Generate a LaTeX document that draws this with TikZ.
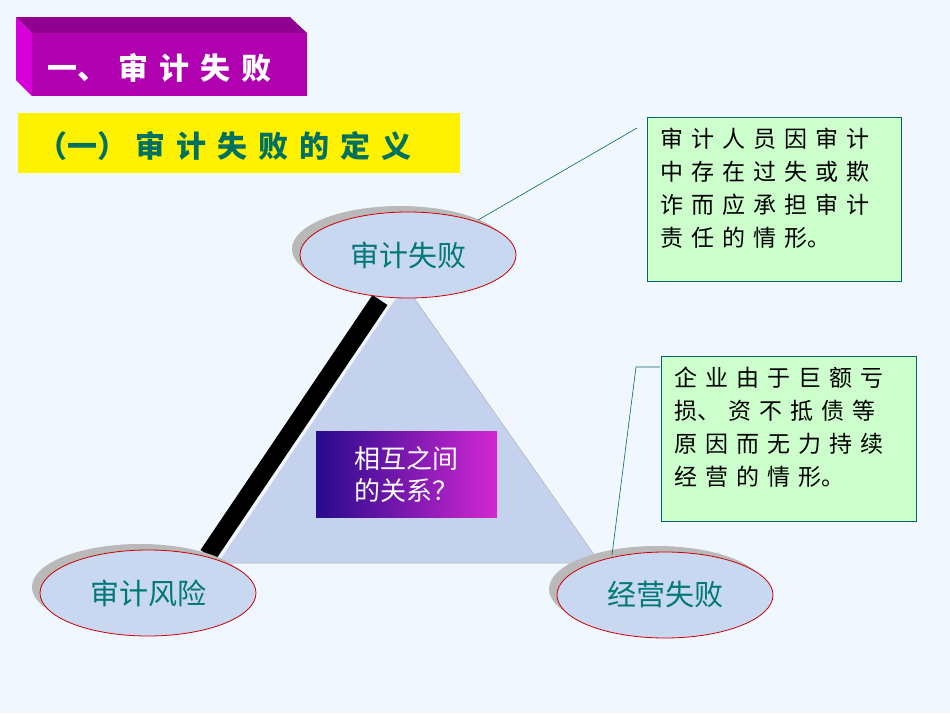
\documentclass[tikz,border=0pt]{standalone}
\usepackage{fontspec}
\setmainfont{Noto Sans CJK SC}
\usetikzlibrary{shapes.geometric}
\definecolor{bgc}{RGB}{240,247,255}
\definecolor{mtop}{RGB}{144,0,144}
\definecolor{mleft}{RGB}{216,0,216}
\definecolor{mfront}{RGB}{176,0,176}
\definecolor{subc}{RGB}{0,112,96}
\definecolor{tric}{RGB}{196,210,238}
\definecolor{cbl}{RGB}{40,10,140}
\definecolor{cbr}{RGB}{210,40,210}
\definecolor{notec}{RGB}{204,255,204}
\definecolor{ellc}{RGB}{200,216,240}
\definecolor{ellt}{RGB}{0,120,120}
\newcommand\gp{\hspace{8pt}}
\newcommand\tgp{\hspace{11pt}}
\begin{document}
\begin{tikzpicture}[x=1pt,y=-1pt,
  ell/.style={ellipse,draw=red!80!black,line width=0.8pt,fill=ellc,minimum width=216pt,minimum height=86pt,text=ellt,font=\fontsize{29}{30}\selectfont},
  shad/.style={ellipse,fill=gray!55,minimum width=216pt,minimum height=86pt},
  note/.style={draw=teal!80!black,fill=notec,line width=0.8pt,anchor=north west,inner sep=0pt},
  notetxt/.style={anchor=north west,align=left,font=\fontsize{23}{33}\selectfont,inner sep=0pt},
  lead/.style={draw=teal!80!black,line width=0.6pt}]
\fill[bgc] (0,0) rectangle (950,713);
\useasboundingbox (0,0) rectangle (950,713);
% title box
\fill[mtop] (16,17)--(290,17)--(307,33)--(32,33)--cycle;
\fill[mleft] (16,17)--(32,33)--(32,96)--(16,80)--cycle;
\node[fill=mfront,minimum width=275pt,minimum height=63pt,anchor=north west,inner sep=0pt] (title) at (32,33) {};
\node[anchor=west,text=white,font=\bfseries\fontsize{30}{32}\selectfont] (titletxt) at (44,68) {一、\tgp 审\tgp 计\tgp 失\tgp 败};
% yellow
\node[fill=yellow,minimum width=442pt,minimum height=60pt,anchor=north west,inner sep=0pt] (sub) at (18,113) {};
\node[anchor=west,text=subc,font=\bfseries\fontsize{30}{32}\selectfont] (subtxt) at (34,146) {（一）\hspace{8pt}审\tgp 计\tgp 失\tgp 败\tgp 的\tgp 定\tgp 义};
% triangle
\coordinate (apex) at (405,285);
\coordinate (bl) at (218,563);
\coordinate (br) at (600,563);
\fill[tric] (apex)--(bl)--(br)--cycle;
\draw[gray!60,line width=0.5pt] (apex)--(br)--(bl);
\coordinate (bs) at (380,300);
\coordinate (be) at (208,555);
\draw[black,line width=18pt] (bs)--(be);
% ellipses
\node[shad] (s1) at (400,249) {};
\node[ell] (e1) at (408,255) {审计失败};
\node[shad] (s2) at (140,587) {};
\node[ell] (e2) at (148,593) {审计风险};
\node[shad] (s3) at (657,589) {};
\node[ell] (e3) at (665,595) {经营失败};
% center box
\node[shade,left color=cbl,right color=cbr,minimum width=181pt,minimum height=86pt,inner sep=0pt,anchor=north west] (cb) at (316,431) {};
\node[text=white,align=left,font=\fontsize{26}{32}\selectfont] (cbt) at (cb.center) {相互之间\\的关系？};
% notes
\node[note,minimum width=254pt,minimum height=164pt] (n1) at (647,117) {};
\node[notetxt] (n1t) at (660,128) {审\gp 计\gp 人\gp 员\gp 因\gp 审\gp 计\\中\gp 存\gp 在\gp 过\gp 失\gp 或\gp 欺\\诈\gp 而\gp 应\gp 承\gp 担\gp 审\gp 计\\责\gp 任\gp 的\gp 情\gp 形。};
\node[note,minimum width=255pt,minimum height=165pt] (n2) at (661,356) {};
\node[notetxt] (n2t) at (674,367) {企\gp 业\gp 由\gp 于\gp 巨\gp 额\gp 亏\\损、\gp 资\gp 不\gp 抵\gp 债\gp 等\\原\gp 因\gp 而\gp 无\gp 力\gp 持\gp 续\\经\gp 营\gp 的\gp 情\gp 形。};
\coordinate (c1) at (478,220);
\coordinate (c2) at (637,128);
\draw[lead] (c1)--(c2);
\coordinate (d1) at (660,367);
\coordinate (d2) at (636,367);
\coordinate (d3) at (612,555);
\draw[lead] (d1)--(d2)--(d3);
\end{tikzpicture}
\end{document}
